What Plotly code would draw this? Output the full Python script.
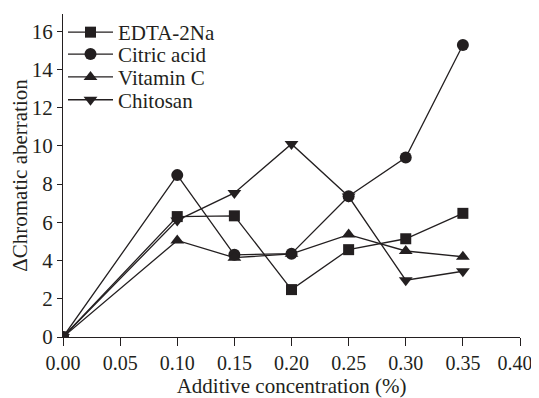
import plotly.graph_objects as go

conc = [0.00, 0.10, 0.15, 0.20, 0.25, 0.30, 0.35]
edta = [0, 6.30, 6.34, 2.48, 4.57, 5.14, 6.47]
citric = [0, 8.47, 4.30, 4.36, 7.36, 9.39, 15.28]
vitc = [0, 5.05, 4.15, 4.35, 5.36, 4.50, 4.20]
chitosan = [0, 6.10, 7.54, 10.10, 7.35, 2.97, 3.44]

names = ["EDTA-2Na", "Citric acid", "Vitamin C", "Chitosan"]
series = [edta, citric, vitc, chitosan]
symbols = ["square", "circle", "triangle-up", "triangle-down"]
sizes = [11, 12, 12, 12]

xticks = [0.00, 0.05, 0.10, 0.15, 0.20, 0.25, 0.30, 0.35, 0.40]
xticklabels = ["0.00", "0.05", "0.10", "0.15", "0.20", "0.25", "0.30", "0.35",
               "0.40\u00a0\u00a0"]
yticks = [0, 2, 4, 6, 8, 10, 12, 14, 16]

FONT = "Liberation Serif"
FS = 21
ink = "#231f20"

# page body has an 8px default margin, so the figure is drawn 8px in
W, H = 531, 390
ML, MR, MT, MB = 55, 19, 4, 61
plot_h = H - MT - MB
legend_tops_px = [2, 24, 47, 70]   # legend box tops (px from figure top)
legend_ids = ["legend", "legend2", "legend3", "legend4"]

fig = go.Figure()
for n, s, sym, sz, lid in zip(names, series, symbols, sizes, legend_ids):
    fig.add_trace(go.Scatter(
        x=conc, y=s, name=n, mode="lines+markers",
        line=dict(color=ink, width=1.3),
        marker=dict(symbol=sym, size=sz, color=ink),
        legend=lid,
    ))

legend_layout = {}
for lid, ry in zip(legend_ids, legend_tops_px):
    legend_layout[lid] = dict(
        x=0.0, y=(H - MB - ry) / plot_h, xanchor="left", yanchor="top",
        bgcolor="rgba(0,0,0,0)", borderwidth=0,
        font=dict(family=FONT, size=FS, color=ink),
        itemwidth=45,
    )

fig.update_layout(
    width=W, height=H,
    margin=dict(l=ML, r=MR, t=MT, b=MB),
    paper_bgcolor="white", plot_bgcolor="white",
    font=dict(family=FONT, size=FS, color=ink),
    showlegend=True,
    xaxis=dict(range=[0, 0.4], tickvals=xticks, ticktext=xticklabels,
               showgrid=False, zeroline=False, showline=True,
               linecolor=ink, linewidth=1.3, ticks="outside",
               ticklen=8, tickwidth=1.3, tickcolor=ink,
               tickfont=dict(family=FONT, size=20),
               ticklabeloverflow="allow",
               title=dict(text="Additive concentration (%)", standoff=6,
                          font=dict(family=FONT, size=FS)),
               automargin=False, fixedrange=True),
    yaxis=dict(range=[0, 16.9], tickvals=yticks,
               showgrid=False, zeroline=False, showline=True,
               linecolor=ink, linewidth=1.3, ticks="outside",
               ticklen=5, tickwidth=1.3, tickcolor=ink,
               tickfont=dict(family=FONT, size=FS),
               title=dict(text="ΔChromatic aberration", standoff=4,
                          font=dict(family=FONT, size=FS)),
               automargin=False, fixedrange=True),
    **legend_layout,
)

fig.write_html("out.html")
